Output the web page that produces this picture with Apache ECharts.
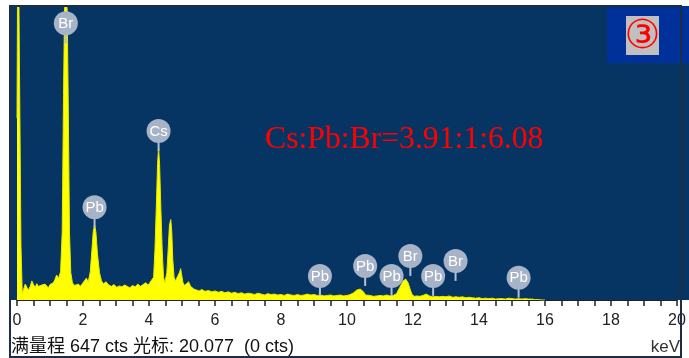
<!DOCTYPE html>
<html>
<head>
<meta charset="utf-8">
<script src="https://cdn.jsdelivr.net/npm/echarts@6/dist/echarts.min.js"></script>
<style>html,body{margin:0;padding:0;background:#fff}#c{width:689px;height:358px}</style>
</head>
<body>
<div id="c"></div>
<script>
// spectrum: energy (keV) and counts
var energies = [0.00,0.03,0.06,0.09,0.12,0.16,0.20,0.25,0.30,0.35,0.40,0.45,0.50,0.55,0.60,0.65,0.70,0.75,0.80,0.85,0.90,0.95,1.00,1.05,1.10,1.15,1.20,1.26,1.32,1.37,1.41,1.44,1.48,1.52,1.55,1.59,1.63,1.68,1.74,1.80,1.86,1.92,1.98,2.04,2.10,2.16,2.22,2.27,2.31,2.35,2.39,2.44,2.50,2.56,2.62,2.70,2.78,2.86,2.94,3.02,3.10,3.18,3.26,3.34,3.42,3.50,3.58,3.66,3.74,3.82,3.90,3.98,4.06,4.14,4.18,4.22,4.26,4.29,4.32,4.36,4.40,4.44,4.48,4.54,4.58,4.62,4.66,4.69,4.72,4.76,4.80,4.86,4.92,4.96,4.99,5.03,5.08,5.14,5.20,5.26,5.30,5.36,5.44,5.52,5.60,5.70,5.80,5.90,6.00,6.10,6.20,6.30,6.40,6.50,6.60,6.70,6.80,6.90,7.00,7.10,7.20,7.30,7.40,7.50,7.60,7.70,7.80,7.90,8.00,8.10,8.20,8.30,8.40,8.50,8.60,8.70,8.80,8.90,9.00,9.10,9.20,9.30,9.40,9.50,9.60,9.70,9.80,9.90,10.00,10.10,10.20,10.30,10.40,10.50,10.56,10.62,10.70,10.80,10.90,11.00,11.10,11.20,11.30,11.40,11.50,11.60,11.70,11.78,11.85,11.92,11.98,12.05,12.12,12.20,12.30,12.40,12.50,12.60,12.70,12.80,12.90,13.00,13.10,13.20,13.30,13.40,13.50,13.60,13.70,13.80,13.90,14.00,14.10,14.20,14.30,14.40,14.50,14.60,14.70,14.80,14.90,15.00,15.10,15.20,15.30,15.40,15.50,15.60,15.70,15.80,15.90,16.00,16.20,20.00];
var counts = [400,900,900,900,120,14,18,35,28,22,30,42,34,28,36,30,26,33,29,35,31,27,34,30,38,45,55,48,62,150,450,640,660,640,450,150,60,38,32,28,35,30,36,42,48,40,62,110,150,166,150,100,60,42,36,40,33,30,34,28,31,29,33,30,27,32,29,35,30,34,38,33,42,50,110,200,300,335,300,200,110,50,38,60,110,165,177,150,90,50,42,45,60,69,55,38,32,36,40,30,26,24,22,20,23,19,21,18,20,17,19,16,18,15,17,14,16,13,15,14,12,15,13,11,14,12,13,11,12,10,13,11,10,12,10,11,13,11,12,10,11,9,10,11,9,10,11,9,10,12,16,22,24,18,11,9,10,8,9,10,9,11,9,10,14,28,42,46,38,22,11,8,9,8,10,13,9,7,8,7,8,7,9,6,7,6,7,5,6,5,4,5,3,4,3,4,2,3,3,2,4,3,2,3,2,3,2,2,1,1,0,0];

// element markers: name, energy (keV), marker level (counts)
var markerNames = ['Br','Pb','Cs','Pb','Pb','Pb','Br','Pb','Br','Pb'];
var markerEnergies = [1.48,2.35,4.29,9.18,10.55,11.35,11.92,12.61,13.29,15.20];
var markerLevels = [609,204,372,53,75,53,97,53,86,49];

// axis
var xTicks = [0,2,4,6,8,10,12,14,16,18,20];
var fullScale = 647;
var footerText = '满量程 647 cts 光标: 20.077  (0 cts)';
var ratioText = 'Cs:Pb:Br=3.91:1:6.08';

var spectrum = energies.map(function(e,i){return [e, counts[i]];});
var markers = markerEnergies.map(function(e,i){return [e, markerLevels[i]];});

var chart = echarts.init(document.getElementById('c'), null, {renderer:'canvas'});
chart.setOption({
  animation:false,
  backgroundColor:'#ffffff',
  grid:{left:17, right:12, top:6, bottom:58},
  xAxis:{
    type:'value', min:xTicks[0], max:xTicks[xTicks.length-1], interval:xTicks[1]-xTicks[0],
    axisLine:{show:true, lineStyle:{color:'#222', width:1}},
    axisTick:{show:true, length:6, lineStyle:{color:'#222', width:1.5}},
    minorTick:{show:true, splitNumber:4, length:6, lineStyle:{color:'#222', width:1.5}},
    axisLabel:{color:'#222', fontSize:16, margin:13, fontFamily:'Liberation Sans'},
    splitLine:{show:false}
  },
  yAxis:{type:'value', min:0, max:fullScale, show:false, splitLine:{show:false}},
  graphic:[
    {type:'rect', z:-1, silent:true, shape:{x:10, y:6, width:671, height:294}, style:{fill:'#063564'}},
    {type:'rect', z:-1, silent:true, shape:{x:681, y:6, width:8, height:294}, style:{fill:'#063564'}},
    {type:'text', z:50, style:{text:ratioText, x:265, y:140, verticalAlign:'middle', fill:'#ff0000', font:'31.7px "Liberation Serif"'}},
    {type:'rect', z:100, silent:true, shape:{x:607, y:6, width:82, height:57}, style:{fill:'#00309a'}},
    {type:'rect', z:101, silent:true, shape:{x:626, y:16, width:33, height:39}, style:{fill:'#c0c0c0'}},
    {type:'text', z:102, style:{text:'③', x:642.5, y:38, align:'center', verticalAlign:'middle', fill:'#ff0000', font:'40px "DejaVu Sans"'}},
    {type:'text', z:50, style:{text:footerText, x:11, y:347, verticalAlign:'middle', fill:'#111', font:'18px "Liberation Sans","Noto Sans CJK SC"'}},
    {type:'text', z:50, style:{text:'keV', x:680, y:347, align:'right', verticalAlign:'middle', fill:'#333', font:'17px "Liberation Sans"'}},
    {type:'rect', z:110, silent:true, shape:{x:10, y:6, width:671, height:351}, style:{fill:null, stroke:'#1d2d44', lineWidth:2}}
  ],
  series:[
    {
      type:'line', data:spectrum, showSymbol:false, symbol:'none', clip:true,
      lineStyle:{color:'#e8e800', width:1},
      areaStyle:{color:'#ffff00', opacity:1},
      z:2
    },
    {
      type:'custom', data:markers, clip:false, z:5,
      renderItem:function(params, api){
        var p = api.coord([api.value(0), api.value(1)]);
        var r = 12;
        return {type:'group', children:[
          {type:'line', shape:{x1:p[0], y1:p[1], x2:p[0], y2:p[1]+r+8}, style:{stroke:'#b5c0d0', lineWidth:2}},
          {type:'circle', shape:{cx:p[0], cy:p[1], r:r}, style:{fill:'#a7b3c6'}},
          {type:'text', style:{text:markerNames[params.dataIndex], x:p[0], y:p[1]+0.5, align:'center', verticalAlign:'middle', fill:'#ffffff', font:'15px "Liberation Sans"'}}
        ]};
      }
    }
  ]
});
</script>
</body>
</html>
